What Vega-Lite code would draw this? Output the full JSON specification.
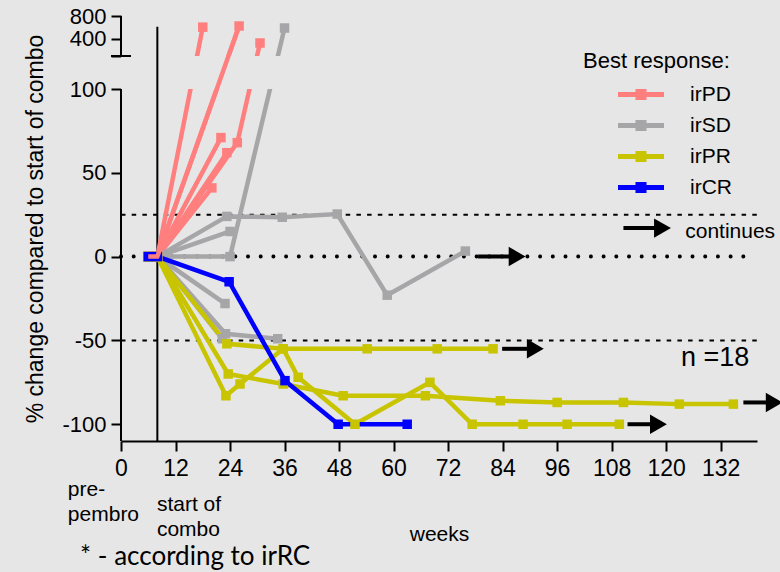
{
  "$schema": "https://vega.github.io/schema/vega-lite/v6.json",
  "width": 636,
  "height": 425,
  "autosize": {"type": "none"},
  "padding": {"left": 121, "top": 16, "right": 23, "bottom": 131},
  "background": "#e6e6e6",
  "config": {
    "view": {"stroke": null},
    "font": "Liberation Sans",
    "axis": {"grid": false, "labelColor": "black", "titleColor": "black", "tickColor": "black", "domainColor": "black"}
  },
  "datasets": {
    "series": [
      {"patient": "a1", "group": "irPD", "week": 6, "value": 0},
      {"patient": "a1", "group": "irPD", "week": 8, "value": 0},
      {"patient": "a1", "group": "irPD", "week": 18, "value": 605},
      {"patient": "a2", "group": "irPD", "week": 6, "value": 0},
      {"patient": "a2", "group": "irPD", "week": 8, "value": 0},
      {"patient": "a2", "group": "irPD", "week": 26, "value": 625},
      {"patient": "a3", "group": "irPD", "week": 6, "value": 0},
      {"patient": "a3", "group": "irPD", "week": 8, "value": 0},
      {"patient": "a3", "group": "irPD", "week": 25.6, "value": 68},
      {"patient": "a3", "group": "irPD", "week": 30.6, "value": 328},
      {"patient": "a4", "group": "irPD", "week": 6, "value": 0},
      {"patient": "a4", "group": "irPD", "week": 8, "value": 0},
      {"patient": "a4", "group": "irPD", "week": 23.3, "value": 62},
      {"patient": "a5", "group": "irPD", "week": 6, "value": 0},
      {"patient": "a5", "group": "irPD", "week": 8, "value": 0},
      {"patient": "a5", "group": "irPD", "week": 22, "value": 71},
      {"patient": "a6", "group": "irPD", "week": 6, "value": 0},
      {"patient": "a6", "group": "irPD", "week": 8, "value": 0},
      {"patient": "a6", "group": "irPD", "week": 20, "value": 41},
      {"patient": "b1", "group": "irSD", "week": 6, "value": 0},
      {"patient": "b1", "group": "irSD", "week": 8, "value": 0},
      {"patient": "b1", "group": "irSD", "week": 23.3, "value": 24},
      {"patient": "b1", "group": "irSD", "week": 35.5, "value": 23.5},
      {"patient": "b1", "group": "irSD", "week": 47.6, "value": 25.4},
      {"patient": "b1", "group": "irSD", "week": 58.6, "value": -23},
      {"patient": "b1", "group": "irSD", "week": 75.8, "value": 3.3},
      {"patient": "b2", "group": "irSD", "week": 6, "value": 0},
      {"patient": "b2", "group": "irSD", "week": 8, "value": 0},
      {"patient": "b2", "group": "irSD", "week": 24, "value": 15},
      {"patient": "b3", "group": "irSD", "week": 6, "value": 0},
      {"patient": "b3", "group": "irSD", "week": 8, "value": 0},
      {"patient": "b3", "group": "irSD", "week": 24, "value": 0},
      {"patient": "b3", "group": "irSD", "week": 36, "value": 590},
      {"patient": "b4", "group": "irSD", "week": 6, "value": 0},
      {"patient": "b4", "group": "irSD", "week": 8, "value": 0},
      {"patient": "b4", "group": "irSD", "week": 22.9, "value": -28},
      {"patient": "b5", "group": "irSD", "week": 6, "value": 0},
      {"patient": "b5", "group": "irSD", "week": 8, "value": 0},
      {"patient": "b5", "group": "irSD", "week": 23, "value": -46},
      {"patient": "b5", "group": "irSD", "week": 34.5, "value": -49},
      {"patient": "b6", "group": "irSD", "week": 6, "value": 0},
      {"patient": "b6", "group": "irSD", "week": 8, "value": 0},
      {"patient": "b6", "group": "irSD", "week": 22.3, "value": -49},
      {"patient": "c1", "group": "irPR", "week": 6, "value": 0},
      {"patient": "c1", "group": "irPR", "week": 8, "value": 0},
      {"patient": "c1", "group": "irPR", "week": 23.3, "value": -52},
      {"patient": "c1", "group": "irPR", "week": 35.7, "value": -55},
      {"patient": "c1", "group": "irPR", "week": 54.2, "value": -55},
      {"patient": "c1", "group": "irPR", "week": 69.6, "value": -55},
      {"patient": "c1", "group": "irPR", "week": 81.9, "value": -55},
      {"patient": "c2", "group": "irPR", "week": 6, "value": 0},
      {"patient": "c2", "group": "irPR", "week": 8, "value": 0},
      {"patient": "c2", "group": "irPR", "week": 23.6, "value": -70},
      {"patient": "c2", "group": "irPR", "week": 35.7, "value": -76},
      {"patient": "c2", "group": "irPR", "week": 48.9, "value": -83},
      {"patient": "c2", "group": "irPR", "week": 67, "value": -83},
      {"patient": "c2", "group": "irPR", "week": 83.5, "value": -86},
      {"patient": "c2", "group": "irPR", "week": 96, "value": -87},
      {"patient": "c2", "group": "irPR", "week": 110.6, "value": -87},
      {"patient": "c2", "group": "irPR", "week": 122.9, "value": -88},
      {"patient": "c2", "group": "irPR", "week": 134.8, "value": -88},
      {"patient": "c3", "group": "irPR", "week": 6, "value": 0},
      {"patient": "c3", "group": "irPR", "week": 8, "value": 0},
      {"patient": "c3", "group": "irPR", "week": 23.1, "value": -83},
      {"patient": "c3", "group": "irPR", "week": 26.2, "value": -76},
      {"patient": "c3", "group": "irPR", "week": 35.7, "value": -55},
      {"patient": "c3", "group": "irPR", "week": 39, "value": -72},
      {"patient": "c3", "group": "irPR", "week": 51.5, "value": -100},
      {"patient": "c3", "group": "irPR", "week": 68, "value": -75},
      {"patient": "c3", "group": "irPR", "week": 77.3, "value": -100},
      {"patient": "c3", "group": "irPR", "week": 88.5, "value": -100},
      {"patient": "c3", "group": "irPR", "week": 98.2, "value": -100},
      {"patient": "c3", "group": "irPR", "week": 109.7, "value": -100},
      {"patient": "d1", "group": "irCR", "week": 6, "value": 0},
      {"patient": "d1", "group": "irCR", "week": 8, "value": 0},
      {"patient": "d1", "group": "irCR", "week": 23.8, "value": -15},
      {"patient": "d1", "group": "irCR", "week": 36.1, "value": -74},
      {"patient": "d1", "group": "irCR", "week": 47.8, "value": -100},
      {"patient": "d1", "group": "irCR", "week": 63, "value": -100}
    ],
    "dashedLines": [
      {"week": 0, "week2": 141, "value": 25},
      {"week": 0, "week2": 141, "value": -50}
    ],
    "dottedLines": [
      {"week": 0, "week2": 137.5, "value": 0}
    ],
    "startLine": [
      {"week": 8, "value": -110, "value2": 610}
    ],
    "startLineGap": [
      {"week": 8, "value": 100, "value2": 101}
    ],
    "yAxisLine": [
      {"week": 0, "value": -110, "value2": 100},
      {"week": 0, "value": 101, "value2": 800}
    ],
    "yAxisBreak": [
      {"week": -2.2, "week2": 2.2, "value": 101}
    ],
    "gap": [
      {"week": 0, "week2": 140, "value": 100, "value2": 101}
    ],
    "arrows": [
      {"week": 78.6, "week2": 89.4, "value": 0},
      {"week": 83.9, "week2": 93.4, "value": -55},
      {"week": 111.5, "week2": 120.5, "value": -100},
      {"week": 137, "week2": 146, "value": -87},
      {"week": 110.6, "week2": 121.4, "value": 17}
    ],
    "notesSmall": [
      {"text": "continues", "week": 124.2, "value": 14.6},
      {"text": "pre-\npembro", "week": -11.7, "value": -139.4},
      {"text": "start of\ncombo", "week": 7.9, "value": -148.4}
    ],
    "notesN": [
      {"text": "n =18", "week": 130.8, "value": -60.6}
    ],
    "notesFoot": [
      {"text": "* - according to irRC", "week": -9, "value": -179}
    ]
  },
  "encoding": {
    "x": {
      "field": "week", "type": "quantitative",
      "scale": {"domain": [0, 140], "nice": false, "zero": false},
      "axis": {
        "values": [0, 12, 24, 36, 48, 60, 72, 84, 96, 108, 120, 132],
        "title": "weeks", "titleFontSize": 21, "titleFontWeight": "normal", "titlePadding": 43,
        "labelFontSize": 23, "labelPadding": 6, "labelFlush": false, "labelOverlap": false,
        "tickSize": 10, "tickWidth": 2, "domainWidth": 2
      }
    },
    "y": {
      "field": "value", "type": "quantitative",
      "scale": {"domain": [-110, 100, 101, 800], "range": [425, 73, 40, 0], "nice": false, "zero": false},
      "axis": {
        "values": [-100, -50, 0, 50, 100, 101, 400, 800],
        "labelExpr": "datum.value == 101 ? '' : '' + datum.value",
        "domain": false, "tickSize": 10, "tickWidth": 2,
        "labelFontSize": 22, "labelPadding": 5, "labelOverlap": false, "labelFlush": false,
        "title": "% change compared to start of combo", "titleFontSize": 23, "titleFontWeight": "normal", "titlePadding": 14
      }
    }
  },
  "layer": [
    {
      "data": {"name": "dashedLines"},
      "mark": {"type": "rule", "color": "black", "strokeWidth": 2, "strokeDash": [4.5, 6.2]},
      "encoding": {"x2": {"field": "week2"}}
    },
    {
      "data": {"name": "dottedLines"},
      "mark": {"type": "rule", "color": "black", "strokeWidth": 4, "strokeCap": "round", "strokeDash": [0.01, 12.69]},
      "encoding": {"x2": {"field": "week2"}}
    },
    {
      "data": {"name": "startLine"},
      "mark": {"type": "rule", "color": "black", "strokeWidth": 2},
      "encoding": {"y2": {"field": "value2"}}
    },
    {
      "data": {"name": "series"},
      "mark": {"type": "line", "strokeWidth": 4.5},
      "encoding": {
        "color": {"field": "group", "type": "nominal", "scale": {"domain": ["irPD", "irSD", "irPR", "irCR"], "range": ["#ff7f7f", "#a6a6a8", "#c8c400", "#0000ff"]}},
        "detail": {"field": "patient"}
      }
    },
    {
      "data": {"name": "series"},
      "mark": {"type": "point", "shape": "square", "filled": true, "opacity": 1, "size": 90},
      "encoding": {
        "color": {
          "field": "group", "type": "nominal",
          "scale": {"domain": ["irPD", "irSD", "irPR", "irCR"], "range": ["#ff7f7f", "#a6a6a8", "#c8c400", "#0000ff"]},
          "legend": {
            "orient": "none", "legendX": 462, "legendY": 35, "padding": 0,
            "title": "Best response:", "titleFontSize": 22, "titleFontWeight": "normal", "titleColor": "black", "titlePadding": 6,
            "symbolType": "M-1,-0.11H1V0.11H-1Z M-0.24,-0.24H0.24V0.24H-0.24Z",
            "symbolSize": 2116, "symbolStrokeWidth": 0, "symbolOffset": 35,
            "labelFontSize": 21, "labelOffset": 26, "labelColor": "black",
            "clipHeight": 31, "rowPadding": 0
          }
        },
        "detail": {"field": "patient"}
      }
    },
    {
      "data": {"name": "gap"},
      "mark": {"type": "rect", "color": "#e6e6e6"},
      "encoding": {"x2": {"field": "week2"}, "y2": {"field": "value2"}}
    },
    {
      "data": {"name": "series"},
      "transform": [{"filter": "datum.patient == 'a2'"}],
      "mark": {"type": "line", "strokeWidth": 4.5, "color": "#ff7f7f"},
      "encoding": {}
    },
    {
      "data": {"name": "startLineGap"},
      "mark": {"type": "rule", "color": "black", "strokeWidth": 2},
      "encoding": {"y2": {"field": "value2"}}
    },
    {
      "data": {"name": "yAxisLine"},
      "mark": {"type": "rule", "color": "black", "strokeWidth": 2},
      "encoding": {"y2": {"field": "value2"}}
    },
    {
      "data": {"name": "yAxisBreak"},
      "mark": {"type": "rule", "color": "black", "strokeWidth": 2},
      "encoding": {"x2": {"field": "week2"}}
    },
    {
      "data": {"name": "arrows"},
      "mark": {"type": "rule", "color": "black", "strokeWidth": 4, "x2Offset": -14},
      "encoding": {"x2": {"field": "week2"}}
    },
    {
      "data": {"name": "arrows"},
      "mark": {"type": "point", "shape": "triangle-right", "filled": true, "opacity": 1, "color": "black", "size": 380, "xOffset": -10},
      "encoding": {"x": {"field": "week2", "type": "quantitative"}}
    },
    {
      "data": {"name": "notesSmall"},
      "mark": {"type": "text", "align": "left", "baseline": "middle", "fontSize": 21, "lineBreak": "\n", "lineHeight": 25, "color": "black"},
      "encoding": {"text": {"field": "text"}}
    },
    {
      "data": {"name": "notesN"},
      "mark": {"type": "text", "align": "center", "baseline": "middle", "fontSize": 27, "color": "black"},
      "encoding": {"text": {"field": "text"}}
    },
    {
      "data": {"name": "notesFoot"},
      "mark": {"type": "text", "align": "left", "baseline": "middle", "fontSize": 26, "font": "Lato", "color": "black"},
      "encoding": {"text": {"field": "text"}}
    }
  ]
}
